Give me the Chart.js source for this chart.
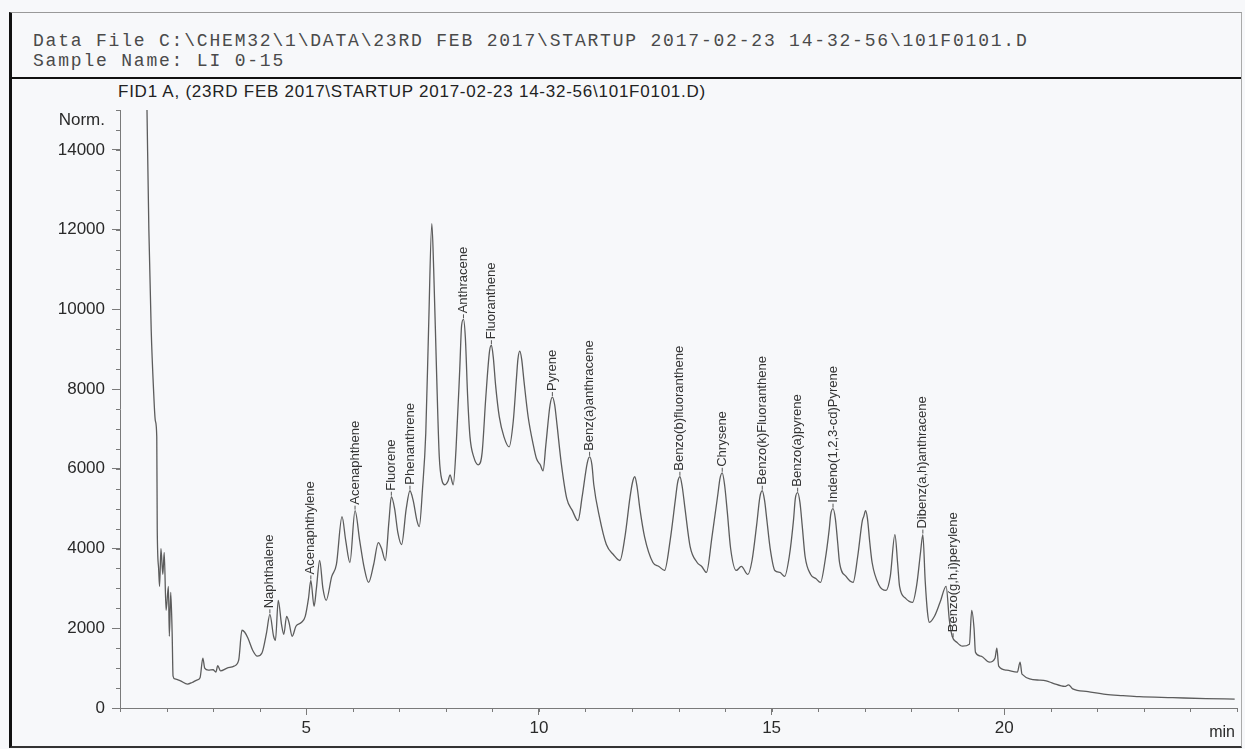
<!DOCTYPE html>
<html>
<head>
<meta charset="utf-8">
<script src="https://cdn.jsdelivr.net/npm/chart.js@4.4.1/dist/chart.umd.min.js"></script>
<style>
  html, body { margin: 0; padding: 0; background: #f7f8fa; }
  #page { position: relative; width: 1245px; height: 749px; overflow: hidden; }
  #frame { position: absolute; left: 9px; top: 12px; width: 1229px; height: 733px;
           border-left: 3px solid #111; border-top: 1px solid #999; border-right: 1px solid #aaa; border-bottom: 2px solid #333; }
  #sep { position: absolute; left: 10px; top: 77px; width: 1231px; height: 0; border-top: 2px solid #111; }
  .mono { position: absolute; left: 33px; font-family: "Liberation Mono", "Courier New", monospace;
          font-size: 18px; letter-spacing: 1.8px; color: #4a4a4a; white-space: pre; }
  #fid { position: absolute; left: 118px; top: 82px; font-family: "Liberation Sans", Arial, sans-serif;
         font-size: 17px; letter-spacing: 0.75px; color: #222; white-space: pre; }
  #myChart { position: absolute; left: 10px; top: 80px; }
</style>
</head>
<body>
<div id="page">
  <div id="frame"></div>
  <div id="sep"></div>
  <div class="mono" style="top:31px">Data File C:\CHEM32\1\DATA\23RD FEB 2017\STARTUP 2017-02-23 14-32-56\101F0101.D</div>
  <div class="mono" style="top:51px">Sample Name: LI 0-15</div>
  <div id="fid">FID1 A, (23RD FEB 2017\STARTUP 2017-02-23 14-32-56\101F0101.D)</div>
  <canvas id="myChart" width="1230" height="667"></canvas>
</div>
<script>
// retention time (min) and detector signal (Norm.)
const times = [
  1.58, 1.62, 1.67, 1.72, 1.76, 1.79, 1.80, 1.83, 1.85, 1.88,
  1.92, 1.95, 1.99, 2.04, 2.06, 2.09, 2.12, 2.14, 2.18, 2.30,
  2.45, 2.55, 2.65, 2.72, 2.78, 2.82, 2.90, 3.00, 3.06, 3.10,
  3.16, 3.30, 3.45, 3.55, 3.62, 3.68, 3.75, 3.85, 3.95, 4.05,
  4.15, 4.22, 4.30, 4.34, 4.40, 4.47, 4.52, 4.58, 4.63, 4.70,
  4.78, 4.90, 4.98, 5.05, 5.10, 5.17, 5.22, 5.29, 5.36, 5.43,
  5.55, 5.65, 5.77, 5.85, 5.94, 6.05, 6.15, 6.25, 6.34, 6.45,
  6.55, 6.62, 6.70, 6.78, 6.83, 6.90, 6.97, 7.05, 7.15, 7.23,
  7.30, 7.38, 7.43, 7.50, 7.57, 7.63, 7.70, 7.74, 7.80, 7.86,
  7.92, 7.98, 8.05, 8.09, 8.16, 8.22, 8.30, 8.34, 8.38, 8.42,
  8.47, 8.52, 8.60, 8.70, 8.78, 8.86, 8.94, 8.98, 9.02, 9.07,
  9.15, 9.25, 9.36, 9.45, 9.52, 9.55, 9.59, 9.63, 9.68, 9.77,
  9.88, 9.95, 10.03, 10.09, 10.15, 10.24, 10.29, 10.34, 10.39, 10.48,
  10.60, 10.72, 10.84, 10.93, 11.04, 11.09, 11.14, 11.18, 11.30, 11.45,
  11.60, 11.74, 11.85, 11.96, 12.01, 12.06, 12.11, 12.17, 12.27, 12.45,
  12.58, 12.70, 12.82, 12.93, 12.98, 13.03, 13.08, 13.14, 13.25, 13.40,
  13.50, 13.60, 13.72, 13.85, 13.89, 13.94, 13.99, 14.05, 14.12, 14.24,
  14.35, 14.49, 14.58, 14.68, 14.75, 14.80, 14.85, 14.90, 14.97, 15.07,
  15.18, 15.28, 15.38, 15.47, 15.51, 15.56, 15.61, 15.66, 15.72, 15.84,
  15.95, 16.05, 16.15, 16.24, 16.27, 16.32, 16.37, 16.42, 16.46, 16.60,
  16.75, 16.85, 16.95, 16.98, 17.02, 17.06, 17.11, 17.16, 17.30, 17.46,
  17.55, 17.65, 17.71, 17.75, 17.88, 18.03, 18.12, 18.20, 18.25, 18.30,
  18.35, 18.39, 18.50, 18.62, 18.75, 18.82, 18.88, 18.98, 19.10, 19.25,
  19.30, 19.35, 19.38, 19.50, 19.68, 19.80, 19.84, 19.88, 20.05, 20.28,
  20.34, 20.38, 20.75, 20.90, 21.05, 21.30, 21.38, 21.47, 21.80, 22.18,
  22.55, 22.90, 23.62, 24.33, 24.95];
const signal = [
  15000, 12000, 9500, 8000, 7200, 6800, 4500, 3500, 3050, 4000,
  3350, 3900, 2450, 3050, 1800, 2900, 1900, 800, 730, 680,
  600, 640, 700, 760, 1250, 1000, 950, 960, 900, 1060,
  930, 1000, 1050, 1200, 1950, 1900, 1750, 1450, 1300, 1380,
  1900, 2350, 1800, 1700, 2700, 2100, 1850, 2300, 2150, 1800,
  2050, 2150, 2300, 2750, 3200, 2550, 3000, 3700, 3000, 2700,
  3300, 3600, 4800, 4200, 3650, 4950, 4200, 3500, 3150, 3600,
  4150, 4000, 3700, 4700, 5300, 5000, 4400, 4100, 5000, 5450,
  5200, 4700, 4550, 5500, 6900, 9500, 12150, 11000, 8500, 6300,
  5700, 5600, 5700, 5850, 5600, 6500, 8500, 9600, 9750, 9300,
  7800, 6800, 6300, 6100, 6400, 7800, 8950, 9100, 8800, 8100,
  7300, 6800, 6550, 7200, 8300, 8750, 8950, 8750, 8200, 7300,
  6600, 6250, 6100, 5950, 6600, 7600, 7800, 7600, 7100, 6150,
  5250, 4950, 4700, 5300, 6150, 6300, 6100, 5600, 4800, 4100,
  3850, 3700, 4300, 5300, 5650, 5800, 5550, 5000, 4300, 3650,
  3550, 3450, 4200, 5200, 5650, 5800, 5550, 5000, 4050, 3650,
  3550, 3400, 4300, 5400, 5750, 5900, 5600, 4900, 4000, 3450,
  3550, 3350, 3700, 4600, 5300, 5450, 5200, 4700, 4000, 3450,
  3400, 3300, 3800, 4700, 5250, 5400, 5150, 4550, 3800, 3350,
  3250, 3150, 3700, 4500, 4850, 5000, 4750, 4150, 3650, 3300,
  3150, 3800, 4700, 4800, 4950, 4750, 4150, 3650, 3100, 2950,
  3300, 4350, 3600, 3050, 2750, 2650, 3100, 3900, 4350, 3200,
  2400, 2150, 2300, 2650, 3050, 2200, 1800, 1650, 1550, 1600,
  2450, 2000, 1400, 1300, 1150, 1250, 1500, 1050, 950, 900,
  1150, 850, 700, 680, 620, 540, 580, 480, 410, 340,
  310, 285, 260, 235, 225];

// peak annotations
const compounds = ['Naphthalene', 'Acenaphthylene', 'Acenaphthene', 'Fluorene', 'Phenanthrene', 'Anthracene', 'Fluoranthene',
  'Pyrene', 'Benz(a)anthracene', 'Benzo(b)fluoranthene', 'Chrysene', 'Benzo(k)Fluoranthene', 'Benzo(a)pyrene',
  'Indeno(1,2,3-cd)Pyrene', 'Dibenz(a,h)anthracene', 'Benzo(g,h,i)perylene'];
const peakTimes = [4.22, 5.10, 6.05, 6.83, 7.23, 8.38, 8.98, 10.29, 11.09, 13.03, 13.94, 14.80, 15.56, 16.32, 18.25, 18.90];
const peakHeights = [2350, 3200, 4950, 5300, 5450, 9750, 9100, 7800, 6300, 5800, 5900, 5450, 5400, 5000, 4350, 1750];

// axis ticks
const xTicks = [5, 10, 15, 20];
const yTicks = [0, 2000, 4000, 6000, 8000, 10000, 12000, 14000];
const xMinorStep = 1;
const yMinorStep = 500;

const axisColor = '#7a7a7a';
const textColor = '#2a2a2a';

const peakLabels = {
    id: 'peakLabels',
    afterDatasetsDraw(chart) {
        const ctx = chart.ctx;
        const xs = chart.scales.x, ys = chart.scales.y;
        ctx.save();
        ctx.font = '13px "Liberation Sans", Arial, sans-serif';
        ctx.fillStyle = '#333';
        ctx.strokeStyle = '#555';
        ctx.lineWidth = 1;
        compounds.forEach((name, i) => {
            const px = xs.getPixelForValue(peakTimes[i]);
            const py = ys.getPixelForValue(peakHeights[i]);
            ctx.beginPath();
            ctx.moveTo(px, py - 1);
            ctx.lineTo(px, py - 5);
            ctx.stroke();
            ctx.save();
            ctx.translate(px, py - 6);
            ctx.rotate(-Math.PI / 2);
            ctx.textAlign = 'left';
            ctx.textBaseline = 'middle';
            ctx.fillText(name, 0, 0);
            ctx.restore();
        });
        ctx.restore();
    }
};

const axisExtras = {
    id: 'axisExtras',
    afterDraw(chart) {
        const ctx = chart.ctx;
        const xs = chart.scales.x, ys = chart.scales.y;
        const area = chart.chartArea;
        ctx.save();
        ctx.strokeStyle = axisColor;
        ctx.lineWidth = 1;
        ctx.beginPath();
        for (let v = ys.min; v <= ys.max; v += yMinorStep) {
            const py = Math.round(ys.getPixelForValue(v)) + 0.5;
            ctx.moveTo(area.left - 4, py);
            ctx.lineTo(area.left, py);
        }
        for (let t = Math.ceil(xs.min); t <= xs.max; t += xMinorStep) {
            const px = Math.round(xs.getPixelForValue(t)) + 0.5;
            ctx.moveTo(px, area.bottom);
            ctx.lineTo(px, area.bottom + 4);
        }
        ctx.stroke();
        ctx.fillStyle = textColor;
        ctx.font = '17px "Liberation Sans", Arial, sans-serif';
        ctx.textAlign = 'right';
        ctx.textBaseline = 'middle';
        ctx.fillText('Norm.', area.left - 15, area.top + 10);
        ctx.font = '16px "Liberation Sans", Arial, sans-serif';
        ctx.fillText('min', area.right - 2, area.bottom + 25);
        ctx.restore();
    }
};

function renderChart() {
    const ctx = document.getElementById('myChart').getContext('2d');
    new Chart(ctx, {
        type: 'line',
        data: {
            datasets: [{
                label: 'FID1 A',
                data: times.map((t, i) => ({ x: t, y: signal[i] })),
                borderColor: '#5c5c5c',
                borderWidth: 1.3,
                pointRadius: 0,
                cubicInterpolationMode: 'monotone',
                fill: false
            }]
        },
        options: {
            responsive: false,
            animation: false,
            devicePixelRatio: 1,
            layout: { padding: { top: 30, right: 3, left: 0, bottom: 0 } },
            plugins: {
                legend: { display: false },
                tooltip: { enabled: false }
            },
            scales: {
                x: {
                    type: 'linear',
                    min: 1,
                    max: 25,
                    afterBuildTicks: (s) => { s.ticks = xTicks.map(v => ({ value: v })); },
                    afterFit: (s) => { s.height = 39; },
                    grid: { drawOnChartArea: false, tickLength: 7, color: axisColor },
                    border: { color: axisColor },
                    ticks: {
                        color: textColor,
                        padding: 3,
                        maxRotation: 0,
                        font: { family: '"Liberation Sans", Arial, sans-serif', size: 17 }
                    }
                },
                y: {
                    min: 0,
                    max: 15000,
                    afterBuildTicks: (s) => { s.ticks = yTicks.map(v => ({ value: v })); },
                    afterFit: (s) => { s.width = 110; },
                    grid: { drawOnChartArea: false, tickLength: 8, color: axisColor },
                    border: { color: axisColor },
                    ticks: {
                        color: textColor,
                        padding: 7,
                        font: { family: '"Liberation Sans", Arial, sans-serif', size: 17 },
                        callback: (v) => String(v)
                    }
                }
            }
        },
        plugins: [peakLabels, axisExtras]
    });
}

renderChart();
</script>
</body>
</html>
